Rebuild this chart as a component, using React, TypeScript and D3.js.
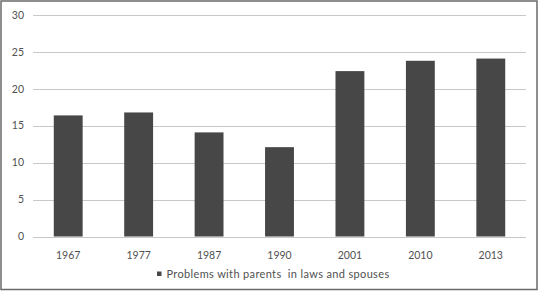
import React from "react";
import * as d3 from "d3";

const categories = ["1967", "1977", "1987", "1990", "2001", "2010", "2013"];
const values = [16.4, 16.8, 14.1, 12.1, 22.4, 23.8, 24.1];
const yTicks = [0, 5, 10, 15, 20, 25, 30];
const seriesName = "Problems with parents  in laws and spouses";

const W = 538;
const H = 292;

export default function App() {
  const x = d3.scaleBand<string>().domain(categories).range([33, 526]).paddingInner(0.59).paddingOuter(0.295);
  const y = d3.scaleLinear().domain([0, 30]).range([236.5, 15]);
  const font = "Lato, 'Open Sans', sans-serif";
  return (
    <div style={{ position: "fixed", left: 0, top: 0 }}>
      <svg width={W} height={H} style={{ display: "block" }}>
        <rect x={0} y={0} width={W} height={H} fill="#fff" />
        <rect x={1} y={1} width={W - 2} height={H - 3.5} fill="none" stroke="#6a6a6a" strokeWidth={1.5} />
        {yTicks.map((t) => (
          <g key={t}>
            <line x1={33} x2={526} y1={Math.round(y(t)) + 0.5} y2={Math.round(y(t)) + 0.5} stroke="#c8c8c8" strokeWidth={1.2} />
            <text x={24} y={y(t)} dy="0.35em" textAnchor="end" fontFamily={font} fontSize={10.5} fill="#505050">
              {t}
            </text>
          </g>
        ))}
        {categories.map((c, i) => (
          <g key={c}>
            <rect x={x(c)} y={y(values[i])} width={x.bandwidth()} height={y(0) - y(values[i])} fill="#474747" />
            <text x={(x(c) ?? 0) + x.bandwidth() / 2} y={255} dy="0.35em" textAnchor="middle" fontFamily={font} fontSize={10.5} fill="#505050">
              {c}
            </text>
          </g>
        ))}
        <rect x={157} y={271.5} width={4.5} height={4.5} fill="#474747" />
        <text x={166.5} y={274} dy="0.35em" fontFamily={font} fontSize={11} letterSpacing={0.35} fill="#505050" style={{ whiteSpace: "pre" }}>
          {seriesName}
        </text>
      </svg>
    </div>
  );
}
